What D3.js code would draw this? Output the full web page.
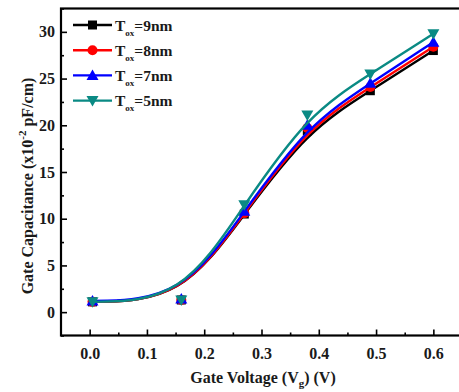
<!DOCTYPE html>
<html><head><meta charset="utf-8">
<script src="https://cdn.jsdelivr.net/npm/d3@7"></script>
<style>
body{margin:0;background:#fff;}
svg{display:block;font-family:"Liberation Serif","Times New Roman",serif;font-weight:bold;}
</style></head>
<body><svg id="c" width="459" height="392"></svg>
<script>
const xVals = [0.005, 0.16, 0.27, 0.38, 0.49, 0.6];
const t9 = [1.1, 1.3, 10.5, 19.4, 23.7, 28.0];
const t8 = [1.1, 1.3, 10.6, 19.7, 24.1, 28.4];
const t7 = [1.2, 1.4, 10.8, 20.0, 24.5, 28.9];
const t5 = [1.1, 1.3, 11.5, 21.1, 25.5, 29.8];
const seriesNames = ["9nm", "8nm", "7nm", "5nm"];
const seriesColors = ["#000000", "#ff0000", "#0000ff", "#0a8a84"];
const seriesShapes = ["square", "circle", "triangle", "triangleDown"];
const xTicks = [0.0, 0.1, 0.2, 0.3, 0.4, 0.5, 0.6];
const xMinor = [0.05, 0.15, 0.25, 0.35, 0.45, 0.55];
const yTicks = [0, 5, 10, 15, 20, 25, 30];
const yMinor = [-2.5, 2.5, 7.5, 12.5, 17.5, 22.5, 27.5, 32.5];

const svg = d3.select("#c");
const L = 61, R = 462, T = 8.5, B = 335.5;
const x = d3.scaleLinear().domain([-0.05, 0.65]).range([L, R]);
const y = d3.scaleLinear().domain([-2.5, 32.5]).range([B, T]);

// axes
const gx = svg.append("g").attr("transform", `translate(0,${B})`)
  .call(d3.axisBottom(x).tickValues(xTicks).tickFormat(d3.format(".1f")).tickSizeInner(-6).tickSizeOuter(0).tickPadding(12));
const gxm = svg.append("g").attr("transform", `translate(0,${B})`)
  .call(d3.axisBottom(x).tickValues(xMinor).tickFormat("").tickSizeInner(-3).tickSizeOuter(0));
const gy = svg.append("g").attr("transform", `translate(${L},0)`)
  .call(d3.axisLeft(y).tickValues(yTicks).tickFormat(d3.format("d")).tickSizeInner(-6).tickSizeOuter(0).tickPadding(6));
const gym = svg.append("g").attr("transform", `translate(${L},0)`)
  .call(d3.axisLeft(y).tickValues(yMinor).tickFormat("").tickSizeInner(-3).tickSizeOuter(0));
[gx, gxm, gy, gym].forEach(g => {
  g.select(".domain").remove();
  g.selectAll(".tick line").attr("stroke", "#000").attr("stroke-width", 1.6);
  g.selectAll("text").attr("font-family", "Liberation Serif").attr("font-weight", "bold")
    .attr("font-size", 16).attr("fill", "#1a1a1a");
});
// frame
svg.append("rect").attr("x", L).attr("y", T).attr("width", R - L).attr("height", B - T)
  .attr("fill", "none").attr("stroke", "#000").attr("stroke-width", 2.2);

const allSeries = [t9, t8, t7, t5];
const line = d3.line().x((d, i) => x(xVals[i])).y(d => y(d)).curve(d3.curveBasis);

function marker(g, shape, color, cx, cy) {
  if (shape === "square") {
    g.append("rect").attr("x", cx - 4.5).attr("y", cy - 4.5).attr("width", 9).attr("height", 9).attr("fill", color);
  } else if (shape === "circle") {
    g.append("circle").attr("cx", cx).attr("cy", cy).attr("r", 5).attr("fill", color);
  } else if (shape === "triangle") {
    g.append("path").attr("d", `M${cx},${cy - 6}L${cx + 6},${cy + 4.5}L${cx - 6},${cy + 4.5}Z`).attr("fill", color);
  } else {
    g.append("path").attr("d", `M${cx},${cy + 6}L${cx + 6},${cy - 4.5}L${cx - 6},${cy - 4.5}Z`).attr("fill", color);
  }
}

allSeries.forEach((s, k) => {
  const g = svg.append("g");
  g.append("path").attr("d", line(s)).attr("fill", "none").attr("stroke", seriesColors[k]).attr("stroke-width", 2.4);
  s.forEach((v, i) => marker(g, seriesShapes[k], seriesColors[k], x(xVals[i]), y(v)));
});

// legend
const lg = svg.append("g");
seriesNames.forEach((n, k) => {
  const yy = 25 + k * 25.2;
  lg.append("line").attr("x1", 73).attr("x2", 112).attr("y1", yy).attr("y2", yy)
    .attr("stroke", seriesColors[k]).attr("stroke-width", 2.4);
  marker(lg, seriesShapes[k], seriesColors[k], 92.5, yy);
  const t = lg.append("text").attr("x", 115).attr("y", yy + 5.5).attr("font-size", 15.5).attr("fill", "#1a1a1a");
  t.append("tspan").text("T");
  t.append("tspan").attr("font-size", 9).attr("dy", 5).text("ox");
  t.append("tspan").attr("dy", -5).text("=" + n);
});

// axis titles
const xt = svg.append("text").attr("x", 263).attr("y", 383).attr("text-anchor", "middle")
  .attr("font-size", 16).attr("fill", "#1a1a1a");
xt.append("tspan").text("Gate Voltage (V");
xt.append("tspan").attr("font-size", 11).attr("dy", 4).text("g");
xt.append("tspan").attr("dy", -4).text(") (V)");

const yt = svg.append("text").attr("transform", "translate(33,186) rotate(-90)").attr("text-anchor", "middle")
  .attr("font-size", 16).attr("fill", "#1a1a1a");
yt.append("tspan").text("Gate Capacitance (x10");
yt.append("tspan").attr("font-size", 11).attr("dy", -7).text("-2");
yt.append("tspan").attr("dy", 7).text(" pF/cm)");
</script></body></html>
